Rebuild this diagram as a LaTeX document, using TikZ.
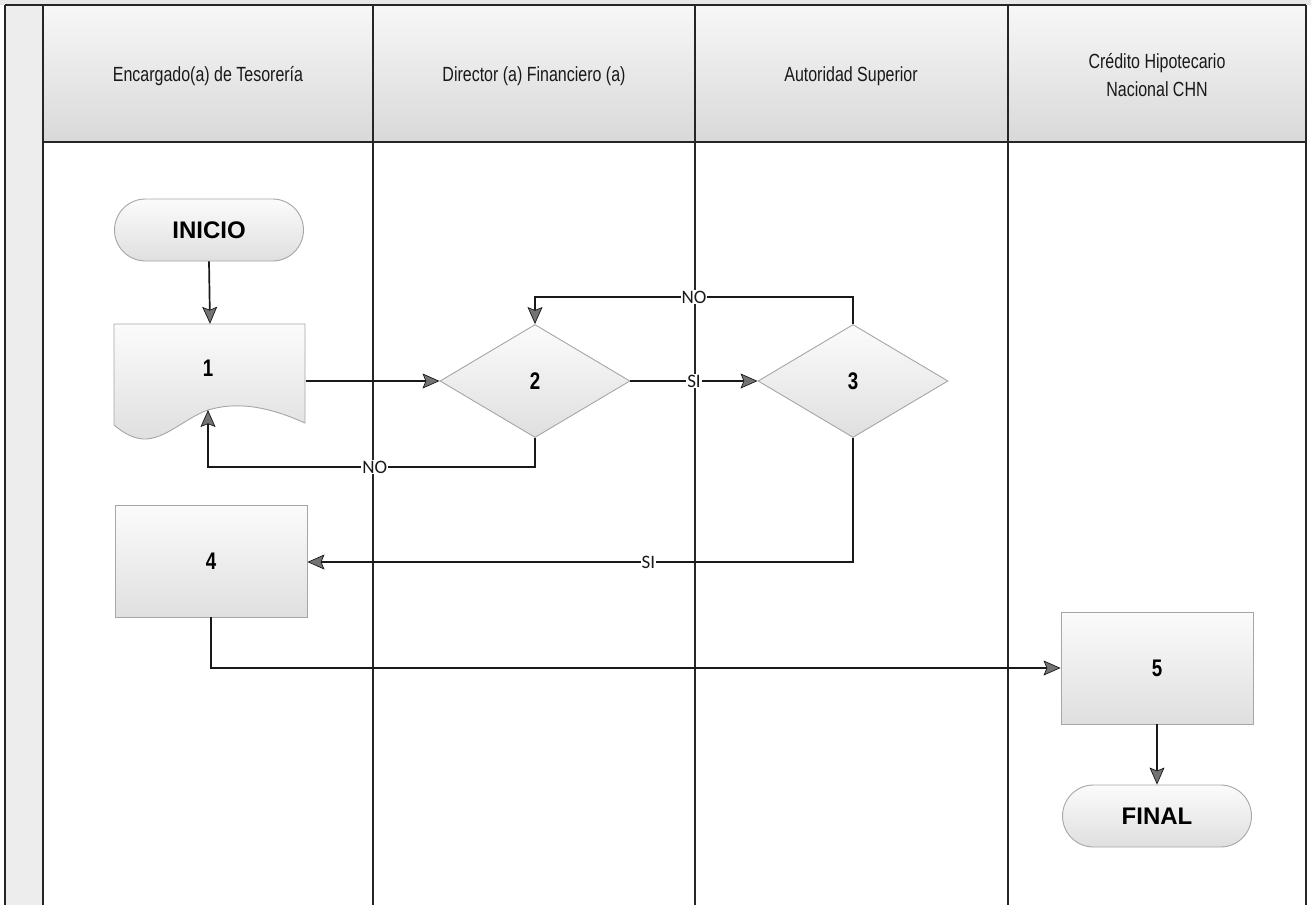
\documentclass[tikz,border=0pt]{standalone}
\usepackage{fontspec}
\setmainfont{Liberation Sans}
\newfontfamily\narrowfont[FakeStretch=0.78]{Liberation Sans}
\newfontfamily\labfont{Carlito}
\usetikzlibrary{arrows.meta,shapes.geometric,calc}
\tikzset{
  lane/.style={line width=1.8pt,draw=black!85},
  headtxt/.style={font=\narrowfont\fontsize{20.5}{28}\selectfont,align=center,text=black!90},
  shapefill/.style={draw=gray!70,line width=0.9pt,top color=gray!3,bottom color=gray!25},
  numfont/.style={font=\narrowfont\bfseries\fontsize{24}{26}\selectfont},
  procbox/.style={shapefill,numfont,rectangle,minimum width=192pt,minimum height=112pt,inner sep=0pt},
  decision/.style={shapefill,numfont,diamond,minimum width=190pt,minimum height=113pt,inner sep=0pt},
  terminal/.style={shapefill,rectangle,rounded corners=31pt,minimum width=189pt,minimum height=62pt,
    inner sep=0pt,font=\bfseries\fontsize{24}{26}\selectfont},
  flow/.style={line width=1.7pt,draw=black!90,
    -{Stealth[length=17pt,width=15pt,inset=3pt,fill=black!55,line width=0.7pt]}},
  lab/.style={fill=white,inner sep=1pt,font=\labfont\fontsize{19}{21}\selectfont,text=black!90}
}
\begin{document}
\begin{tikzpicture}[x=1pt,y=-1pt]
\useasboundingbox (0,0) rectangle (1311,905);
% grey margins and header band
\fill[gray!18] (0,0) rectangle (1311,5);
\fill[gray!14] (5,5) rectangle (43,905);
\shade[top color=gray!6,bottom color=gray!30] (43,5) rectangle (1306,142);
% pool frame and lane separators
\draw[lane] (5,5) -- (1306,5);
\draw[lane] (5,5) -- (5,905);
\foreach \xx in {43,373,695,1008,1306}
  \draw[lane] (\xx,5) -- (\xx,905);
\draw[lane] (43,142) -- (1306,142);
% lane titles
\node[headtxt] (h1) at (208,76) {Encargado(a) de Tesorería};
\node[headtxt] (h2) at (534,76) {Director (a) Financiero (a)};
\node[headtxt] (h3) at (851,76) {Autoridad Superior};
\node[headtxt] (h4) at (1157,75) {Crédito Hipotecario\\Nacional CHN};
% start
\node[terminal] (ini) at (209,230) {INICIO};
% document 1 (wavy bottom)
\node[rectangle,minimum width=191pt,minimum height=101pt,inner sep=0pt] (n1) at (210,374.5) {};
\path[shapefill] (114,324) -- (305,324) -- (305,423)
  .. controls (265,405) and (235,402) .. (208,410)
  .. controls (185,418) and (165,440) .. (143,439)
  .. controls (130,438) and (120,430) .. (114,425) -- cycle;
\node[numfont] (t1) at (208,368) {1};
\coordinate (n1w) at (208,410);
% decisions
\node[decision] (d2) at (535,381) {2};
\node[decision] (d3) at (853,381) {3};
% process boxes
\node[procbox] (n4) at (211,561) {4};
\node[procbox] (n5) at (1157,668) {5};
\node[terminal] (fin) at (1157,816) {FINAL};
% bend points
\coordinate (a3) at (853,297);
\coordinate (a2) at (535,297);
\coordinate (b2) at (535,467);
\coordinate (b1) at (208,467);
\coordinate (c3) at (853,562);
% connectors
\draw[flow] (ini.south) -- (n1.north);
\draw[flow] (n1.east |- d2.west) -- (d2.west);
\draw[flow] (d2.east) -- node[lab]{SI} (d3.west);
\draw[flow] (d3.north) -- (a3) -- node[lab]{NO} (a2) -- (d2.north);
\draw[flow] (d2.south) -- (b2) -- node[lab,pos=0.49]{NO} (b1) -- (n1w);
\draw[flow] (d3.south) -- (c3) -- node[lab,pos=0.375]{SI} (n4.east |- c3);
\draw[flow] (n4.south) |- (n5.west);
\draw[flow] (n5.south) -- (fin.north);
\end{tikzpicture}
\end{document}
